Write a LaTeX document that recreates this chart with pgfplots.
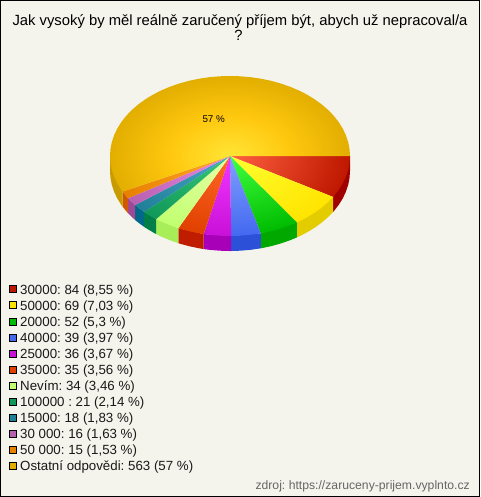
\documentclass[border=0pt]{standalone}
\usepackage{fontspec}
\setmainfont{Liberation Sans}
\usepackage{pgfplots}
\pgfplotsset{compat=1.18}
\frenchspacing
\definecolor{bg}{HTML}{F4F4EC}
\pgfplotsset{
  wall/.style={draw=none,fill=#1},
  face/.style n args={2}{draw=none,shade,shading=radial,inner color=#1,outer color=#2,unbounded coords=jump},
  key/.style={only marks,mark=square*,mark size=3.5pt,mark options={fill=#1,draw=black,line width=0.8pt}}
}
\definecolor{k1}{HTML}{BE1800}\definecolor{k2}{HTML}{FFE400}\definecolor{k3}{HTML}{00BC00}\definecolor{k4}{HTML}{4468F0}
\definecolor{k5}{HTML}{C810D8}\definecolor{k6}{HTML}{E04000}\definecolor{k7}{HTML}{C0FF70}\definecolor{k8}{HTML}{109858}
\definecolor{k9}{HTML}{208098}\definecolor{k10}{HTML}{B860B0}\definecolor{k11}{HTML}{E88000}\definecolor{k12}{HTML}{E2AE00}
\definecolor{i1}{HTML}{FF6040}\definecolor{i2}{HTML}{FFFF30}\definecolor{i3}{HTML}{40FF40}\definecolor{i4}{HTML}{80A0FF}
\definecolor{i5}{HTML}{F038FF}\definecolor{i6}{HTML}{FF6828}\definecolor{i7}{HTML}{E8FFA8}\definecolor{i8}{HTML}{38C878}
\definecolor{i9}{HTML}{48A8C8}\definecolor{i10}{HTML}{E888E8}\definecolor{i11}{HTML}{FFA828}\definecolor{i12}{HTML}{FFE535}
\definecolor{m12}{HTML}{FFC80F}
\definecolor{w1}{HTML}{A00000}\definecolor{w2}{HTML}{E3CC00}\definecolor{w3}{HTML}{00A800}\definecolor{w4}{HTML}{2C50D8}
\definecolor{w5}{HTML}{A800B8}\definecolor{w6}{HTML}{C01C00}\definecolor{w7}{HTML}{A8EE58}\definecolor{w8}{HTML}{008048}
\definecolor{w9}{HTML}{006888}\definecolor{w10}{HTML}{A04898}\definecolor{w11}{HTML}{D05800}\definecolor{w12}{HTML}{C89C00}
\pgfdeclareradialshading{goldface}{\pgfpoint{0bp}{0bp}}{color(0bp)=(i12);color(12.5bp)=(m12);color(25bp)=(k12);color(50bp)=(k12)}
\begin{document}
\begin{tikzpicture}
\begin{axis}[
  scale only axis,width=480pt,height=497pt,
  xmin=0,xmax=480,ymin=0,ymax=497,y dir=reverse,
  hide axis,clip=false,
]
\fill[bg] (axis cs:0,0) rectangle (axis cs:480,497);
\draw[black,line width=1pt] (axis cs:0.5,0.5) rectangle (axis cs:479.5,496.5);
% side walls
\addplot[wall=w1] coordinates {(350,156)(350,171)(349.54,177.97)(348.18,184.89)(345.91,191.71)(342.76,198.36)(338.76,204.81)(333.92,211)(333.09,211.94)(333.09,196.94)} --cycle;
\addplot[wall=w2] coordinates {(333.09,196.94)(333.09,211.94)(328.30,216.89)(321.93,222.42)(314.85,227.57)(307.13,232.28)(298.83,236.53)(296.92,237.41)(296.92,222.41)} --cycle;
\addplot[wall=w3] coordinates {(296.92,222.41)(296.92,237.41)(290,240.28)(280.71,243.5)(271.04,246.18)(261.06,248.27)(260.76,248.33)(260.76,233.33)} --cycle;
\addplot[wall=w4] coordinates {(260.76,233.33)(260.76,248.33)(250.84,249.78)(240.46,250.70)(231.15,251)(231.15,236)} --cycle;
\addplot[wall=w5] coordinates {(231.15,236)(231.15,251)(230,251)(219.54,250.7)(209.16,249.78)(203.72,249.06)(203.72,234.06)} --cycle;
\addplot[wall=w6] coordinates {(203.72,234.06)(203.72,249.06)(198.94,248.27)(188.96,246.18)(179.29,243.5)(178.38,243.22)(178.38,228.22)} --cycle;
\addplot[wall=w7] coordinates {(178.38,228.22)(178.38,243.22)(170,240.28)(161.17,236.53)(156.24,234.10)(156.24,219.10)} --cycle;
\addplot[wall=w8] coordinates {(156.24,219.1)(156.24,234.1)(152.87,232.28)(145.15,227.57)(144.2,226.93)(144.2,211.93)} --cycle;
\addplot[wall=w9] coordinates {(144.2,211.93)(144.2,226.93)(138.07,222.42)(135.14,220)(135.14,205)} --cycle;
\addplot[wall=w10] coordinates {(135.14,205)(135.14,220)(131.7,216.89)(128.12,213.26)(128.12,198.26)} --cycle;
\addplot[wall=w11] coordinates {(128.12,198.26)(128.12,213.26)(126.08,211)(122.52,206.57)(122.52,191.57)} --cycle;
\addplot[wall=w12] coordinates {(122.52,191.57)(122.52,206.57)(121.24,204.81)(117.24,198.36)(114.09,191.71)(111.82,184.89)(110.46,177.97)(110,171)(110,156)} --cycle;
% top faces (the isolated corner points centre the radial shading on the pie)
\addplot[face={i1}{k1}] coordinates {(110,76)(nan,nan)(350,236)(nan,nan)(230,156)(350,156)(349.54,162.97)(348.18,169.89)(345.91,176.71)(342.76,183.36)(338.76,189.81)(333.92,196)(333.09,196.94)} --cycle;
\addplot[face={i2}{k2}] coordinates {(110,76)(nan,nan)(350,236)(nan,nan)(230,156)(333.09,196.94)(328.30,201.89)(321.93,207.42)(314.85,212.57)(307.13,217.28)(298.83,221.53)(296.92,222.41)} --cycle;
\addplot[face={i3}{k3}] coordinates {(110,76)(nan,nan)(350,236)(nan,nan)(230,156)(296.92,222.41)(290,225.28)(280.71,228.5)(271.04,231.18)(261.06,233.27)(260.76,233.33)} --cycle;
\addplot[face={i4}{k4}] coordinates {(110,76)(nan,nan)(350,236)(nan,nan)(230,156)(260.76,233.33)(250.84,234.78)(240.46,235.7)(231.15,236)} --cycle;
\addplot[face={i5}{k5}] coordinates {(110,76)(nan,nan)(350,236)(nan,nan)(230,156)(231.15,236)(230,236)(219.54,235.7)(209.16,234.78)(203.72,234.06)} --cycle;
\addplot[face={i6}{k6}] coordinates {(110,76)(nan,nan)(350,236)(nan,nan)(230,156)(203.72,234.06)(198.94,233.27)(188.96,231.18)(179.29,228.5)(178.38,228.22)} --cycle;
\addplot[face={i7}{k7}] coordinates {(110,76)(nan,nan)(350,236)(nan,nan)(230,156)(178.38,228.22)(170,225.28)(161.17,221.53)(156.24,219.1)} --cycle;
\addplot[face={i8}{k8}] coordinates {(110,76)(nan,nan)(350,236)(nan,nan)(230,156)(156.24,219.1)(152.87,217.28)(145.15,212.57)(144.2,211.93)} --cycle;
\addplot[face={i9}{k9}] coordinates {(110,76)(nan,nan)(350,236)(nan,nan)(230,156)(144.2,211.93)(138.07,207.42)(135.14,205)} --cycle;
\addplot[face={i10}{k10}] coordinates {(110,76)(nan,nan)(350,236)(nan,nan)(230,156)(135.14,205)(131.7,201.89)(128.12,198.26)} --cycle;
\addplot[face={i11}{k11}] coordinates {(110,76)(nan,nan)(350,236)(nan,nan)(230,156)(128.12,198.26)(126.08,196)(122.52,191.57)} --cycle;
\addplot[draw=none,shade,shading=goldface,unbounded coords=jump] coordinates {(110,76)(nan,nan)(350,236)(nan,nan)(230,156)(122.52,191.57)(121.24,189.81)(117.24,183.36)(114.09,176.71)(111.82,169.89)(110.46,162.97)(110,156)(110.46,149.03)(111.82,142.11)(114.09,135.29)(117.24,128.64)(121.24,122.19)(126.08,116)(131.7,110.11)(138.07,104.58)(145.15,99.43)(152.87,94.72)(161.17,90.47)(170,86.72)(179.29,83.5)(188.96,80.82)(198.94,78.73)(209.16,77.22)(219.54,76.3)(230,76)(240.46,76.3)(250.84,77.22)(261.06,78.73)(271.04,80.82)(280.71,83.5)(290,86.72)(298.83,90.47)(307.13,94.72)(314.85,99.43)(321.93,104.58)(328.3,110.11)(333.92,116)(338.76,122.19)(342.76,128.64)(345.91,135.29)(348.18,142.11)(349.54,149.03)(350,156)} --cycle;
% legend keys
\addplot[key=k1] coordinates {(13,289.3)};
\addplot[key=k2] coordinates {(13,305.3)};
\addplot[key=k3] coordinates {(13,321.4)};
\addplot[key=k4] coordinates {(13,337.4)};
\addplot[key=k5] coordinates {(13,353.5)};
\addplot[key=k6] coordinates {(13,369.5)};
\addplot[key=k7] coordinates {(13,385.5)};
\addplot[key=k8] coordinates {(13,401.6)};
\addplot[key=k9] coordinates {(13,417.6)};
\addplot[key=k10] coordinates {(13,433.7)};
\addplot[key=k11] coordinates {(13,449.7)};
\addplot[key=k12] coordinates {(13,465.7)};
\tikzset{lab/.style={anchor=base west,inner sep=0pt,font=\fontsize{13.3}{15}\selectfont,text=black!90}}
\node[lab] at (axis cs:20,294) {30000: 84 (8,55 \%)};
\node[lab] at (axis cs:20,310) {50000: 69 (7,03 \%)};
\node[lab] at (axis cs:20,326.1) {20000: 52 (5,3 \%)};
\node[lab] at (axis cs:20,342.1) {40000: 39 (3,97 \%)};
\node[lab] at (axis cs:20,358.2) {25000: 36 (3,67 \%)};
\node[lab] at (axis cs:20,374.2) {35000: 35 (3,56 \%)};
\node[lab] at (axis cs:20,390.2) {Nevím: 34 (3,46 \%)};
\node[lab] at (axis cs:20,406.3) {100000 : 21 (2,14 \%)};
\node[lab] at (axis cs:20,422.3) {15000: 18 (1,83 \%)};
\node[lab] at (axis cs:20,438.4) {30 000: 16 (1,63 \%)};
\node[lab] at (axis cs:20,454.4) {50 000: 15 (1,53 \%)};
\node[lab] at (axis cs:20,470.4) {Ostatní odpovědi: 563 (57 \%)};
\node[anchor=base,inner sep=0pt,font=\fontsize{9.8}{12}\selectfont] at (axis cs:213.7,123) {57 \%};
\node[anchor=base,inner sep=0pt,font=\fontsize{14.8}{17}\selectfont] at (axis cs:240,25.5) {Jak vysoký by měl reálně zaručený příjem být, abych už nepracoval/a};
\node[anchor=base,inner sep=0pt,font=\fontsize{14.8}{17}\selectfont] at (axis cs:238.5,40.5) {?};
\node[anchor=base east,inner sep=0pt,font=\fontsize{12.2}{14}\selectfont,text=black!60] at (axis cs:470,489) {zdroj: https://zaruceny-prijem.vyplnto.cz};
\end{axis}
\end{tikzpicture}
\end{document}
